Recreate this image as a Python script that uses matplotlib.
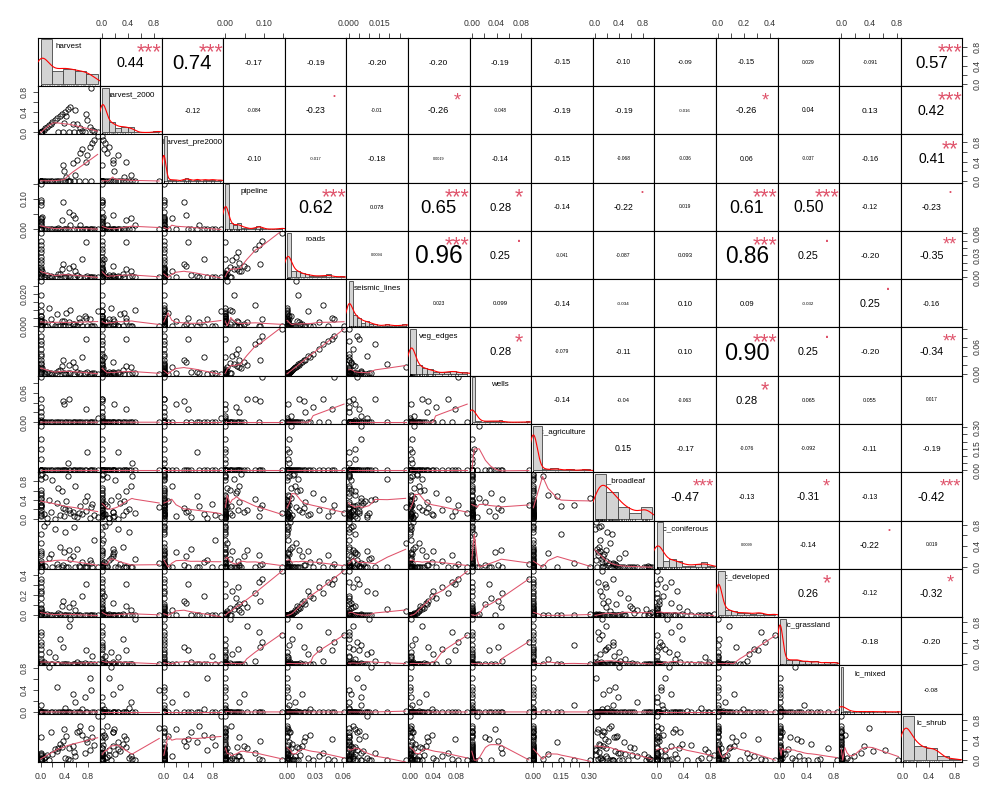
import numpy as np
import matplotlib
matplotlib.use('Agg')
import matplotlib.pyplot as plt
from matplotlib.font_manager import FontProperties
from matplotlib.textpath import TextPath, text_to_path
from matplotlib.transforms import offset_copy

plt.rcParams['font.family'] = 'Liberation Sans'

names = ['harvest', 'harvest_2000', 'harvest_pre2000', 'pipeline', 'roads',
         'seismic_lines', 'veg_edges', 'wells', 'lc_agriculture', 'lc_broadleaf',
         'lc_coniferous', 'lc_developed', 'lc_grassland', 'lc_mixed', 'lc_shrub']

# site values (50 sites), estimated from the scatter panels
harvest = [0, 0, 0, 0, 0, 0, 0, 0, 0, 0, 0, 0, 0, 0, 0, 0,
           0.02, 0.05, 0.08, 0.11, 0.14, 0.17, 0.20, 0.24, 0.28, 0.32, 0.36, 0.41, 0.46, 0.50,
           0.38, 0.40, 0.42, 0.54, 0.62, 0.66, 0.70, 0.76, 0.78, 0.83, 0.87, 0.90, 0.85, 0.96,
           0.58, 0.47, 0.64, 0.74, 0.56, 0.30]
harvest_2000 = [0, 0, 0, 0, 0, 0, 0, 0, 0, 0, 0, 0, 0, 0, 0, 0,
                0.02, 0.05, 0.08, 0.11, 0.14, 0.17, 0.20, 0.24, 0.28, 0.32, 0.36, 0.41, 0.46, 0.50,
                0.00, 0.18, 0.33, 0.17, 0.16, 0.08, 0.03, 0.36, 0.24, 0.10, 0.05, 0.02, 0.88, 0.00,
                0.45, 0.00, 0.00, 0.00, 0.00, 0.00]
harvest_pre2000 = [0, 0, 0, 0, 0, 0, 0, 0, 0, 0, 0, 0, 0, 0, 0, 0,
                   0, 0, 0, 0, 0, 0, 0, 0, 0, 0, 0, 0, 0, 0,
                   0.33, 0.20, 0.07, 0.37, 0.44, 0.57, 0.66, 0.40, 0.54, 0.71, 0.79, 0.84, 0.00, 0.93,
                   0.13, 0.00, 0.00, 0.00, 0.00, 0.00]
pipeline = [0.148, 0.095, 0.088, 0.078, 0.032, 0.028, 0.018, 0.035, 0.012, 0.004, 0, 0, 0, 0, 0, 0.022,
            0.04, 0, 0, 0, 0, 0, 0, 0, 0, 0, 0.03, 0, 0, 0.012,
            0.09, 0, 0, 0.048, 0, 0.014, 0, 0, 0, 0, 0, 0, 0, 0, 0.036, 0.055, 0, 0, 0, 0.005]
roads = [0.061, 0.050, 0.044, 0.039, 0.034, 0.028, 0.023, 0.019, 0.014, 0.010, 0.004, 0.002, 0.006, 0.001, 0, 0.012,
         0.008, 0.001, 0, 0.003, 0, 0.002, 0, 0.001, 0, 0.005, 0.011, 0, 0.002, 0,
         0.018, 0.001, 0, 0.016, 0.003, 0, 0.025, 0.048, 0.002, 0, 0, 0.001, 0, 0, 0.009, 0.013, 0, 0.001, 0, 0.004]
seismic_lines = [0, 0.004, 0, 0.013, 0.002, 0, 0.009, 0, 0.001, 0.028, 0.006, 0.006, 0, 0.003, 0.003, 0.019,
                 0, 0.002, 0, 0, 0.011, 0.004, 0.001, 0, 0.007, 0, 0.003, 0, 0, 0.010,
                 0, 0.003, 0.008, 0.001, 0, 0.002, 0, 0.005, 0, 0.004, 0, 0, 0, 0.009, 0, 0.002, 0.005, 0.006, 0.001, 0]
veg_edges = [0.099, 0.083, 0.072, 0.066, 0.056, 0.044, 0.040, 0.030, 0.024, 0.015, 0.006, 0.004, 0.011, 0.002, 0, 0.021,
             0.012, 0.002, 0, 0.005, 0.001, 0.003, 0, 0.002, 0, 0.008, 0.017, 0, 0.003, 0.001,
             0.031, 0.002, 0, 0.027, 0.005, 0.001, 0.038, 0.078, 0.004, 0, 0.001, 0.002, 0, 0, 0.015, 0.020, 0, 0.002, 0, 0.007]
wells = [0, 0.092, 0, 0.048, 0, 0.031, 0, 0.022, 0, 0, 0.012, 0, 0, 0, 0.004, 0,
         0, 0, 0, 0, 0, 0, 0, 0, 0, 0, 0, 0, 0, 0,
         0.043, 0.038, 0, 0, 0, 0, 0, 0.028, 0, 0, 0, 0, 0, 0.009, 0, 0.047, 0, 0, 0, 0]
lc_agriculture = [0, 0, 0, 0, 0, 0, 0, 0, 0, 0, 0.31, 0.22, 0, 0.08, 0.15, 0,
                  0, 0, 0, 0, 0, 0, 0, 0, 0, 0, 0, 0, 0.05, 0,
                  0, 0, 0, 0, 0, 0, 0, 0, 0.13, 0, 0, 0, 0, 0, 0, 0, 0, 0, 0, 0]
lc_broadleaf = [0.12, 0.30, 0.05, 0.42, 0.18, 0.55, 0.08, 0.35, 0.62, 0.25, 0.45, 0.30, 0.92, 0.50, 0.28, 0.85,
                0.95, 0.10, 0.88, 0.02, 0.40, 0.15, 0.82, 0.00, 0.33, 0.07, 0.58, 0.20, 0.90, 0.12,
                0.22, 0.05, 0.37, 0.14, 0.03, 0.27, 0.11, 0.16, 0.48, 0.01, 0.32, 0.09, 0.24, 0.04, 0.70,
                0.19, 0.13, 0.38, 0.06, 0.65]
lc_coniferous = [0, 0.05, 0.22, 0, 0.12, 0, 0.31, 0.03, 0, 0.45, 0, 0.08, 0, 0.27, 0.62, 0,
                 0, 0.78, 0.02, 0.85, 0.18, 0.25, 0, 0.72, 0.06, 0.38, 0, 0.66, 0, 0.15,
                 0.04, 0.28, 0, 0.21, 0.35, 0, 0.09, 0, 0.01, 0.13, 0, 0.52, 0.07, 0, 0, 0.33, 0.02, 0, 0.76, 0]
lc_developed = [0.44, 0.36, 0.33, 0.22, 0.28, 0.17, 0.24, 0.11, 0.07, 0.04, 0.01, 0, 0.02, 0, 0, 0.06,
                0.03, 0, 0, 0.01, 0, 0, 0, 0, 0, 0.01, 0.09, 0, 0, 0,
                0.14, 0, 0, 0.12, 0, 0, 0.19, 0.31, 0, 0, 0, 0, 0, 0, 0.05, 0.08, 0, 0, 0, 0.02]
lc_grassland = [0.55, 0.42, 0.60, 0.05, 0.28, 0, 0.18, 0, 0.02, 0, 0, 0.36, 0, 0.08, 0, 0,
                0, 0.03, 0, 0, 0.22, 0, 0, 0.12, 0, 0.46, 0, 0, 0, 0.85,
                0.31, 0, 0, 0, 0.04, 0, 0, 0.25, 0, 0, 0.15, 0, 0, 0, 0, 0.72, 0, 0.01, 0, 0]
lc_mixed = [0, 0, 0, 0, 0, 0, 0, 0, 0, 0.02, 0, 0.12, 0, 0, 0, 0,
            0, 0, 0, 0, 0.82, 0, 0, 0, 0.45, 0, 0, 0.08, 0, 0,
            0, 0, 0, 0.33, 0, 0, 0.05, 0, 0, 0.62, 0, 0, 0.40, 0, 0.18, 0, 0, 0.28, 0, 0]
lc_shrub = [0, 0, 0.02, 0.15, 0.08, 0, 0.05, 0.45, 0.10, 0, 0, 0, 0.03, 0.12, 0, 0,
            0, 0.05, 0.06, 0.10, 0, 0.55, 0.12, 0.22, 0.18, 0.32, 0.26, 0.04, 0.02, 0,
            0.38, 0.62, 0.48, 0.28, 0.55, 0.68, 0.50, 0.42, 0.35, 0.20, 0.45, 0.30, 0.64, 0.88,
            0.08, 0.25, 0.58, 0.14, 0.17, 0.25]

vals = [np.array(v, dtype=float) for v in
        [harvest, harvest_2000, harvest_pre2000, pipeline, roads, seismic_lines, veg_edges,
         wells, lc_agriculture, lc_broadleaf, lc_coniferous, lc_developed, lc_grassland,
         lc_mixed, lc_shrub]]

bin_width = [0.2, 0.1, 0.05, 0.01, 0.005, 0.002, 0.01, 0.005, 0.05, 0.2, 0.1, 0.05, 0.1, 0.02, 0.2]
tick_step = [0.2, 0.2, 0.2, 0.05, 0.01, 0.005, 0.02, 0.02, 0.05, 0.2, 0.2, 0.1, 0.2, 0.2, 0.2]
h_labels = [['0.0', '0.4', '0.8']] * 3 + [['0.00', '0.10'], ['0.00', '0.03', '0.06'],
            ['0.000', '0.015'], ['0.00', '0.04', '0.08'], ['0.00', '0.04', '0.08'],
            ['0.00', '0.15', '0.30'], ['0.0', '0.4', '0.8'], ['0.0', '0.4', '0.8'],
            ['0.0', '0.2', '0.4'], ['0.0', '0.4', '0.8'], ['0.0', '0.4', '0.8'], ['0.0', '0.4', '0.8']]
v_labels = [['0.0', '0.4', '0.8']] * 3 + [['0.00', '0.10'], ['0.00', '0.03', '0.06'],
            ['0.000', '0.020'], ['0.00', '0.06'], ['0.00', '0.06'],
            ['0.00', '0.15', '0.30'], ['0.0', '0.4', '0.8'], ['0.0', '0.4', '0.8'],
            ['0.0', '0.2', '0.4'], ['0.0', '0.4', '0.8'], ['0.0', '0.4', '0.8'], ['0.0', '0.4', '0.8']]

# upper triangle, as printed (row i, columns i+1 .. 14)
cor_txt = [
    ['0.44', '0.74', '-0.17', '-0.19', '-0.20', '-0.20', '-0.19', '-0.15', '-0.10', '-0.09', '-0.15', '0.029', '-0.091', '0.57'],
    ['-0.12', '-0.084', '-0.23', '-0.01', '-0.26', '-0.048', '-0.19', '-0.19', '-0.016', '-0.26', '0.04', '0.13', '0.42'],
    ['-0.10', '-0.017', '-0.18', '0.0019', '-0.14', '-0.15', '-0.068', '-0.036', '0.06', '-0.037', '-0.16', '0.41'],
    ['0.62', '0.078', '0.65', '0.28', '-0.14', '-0.22', '0.019', '0.61', '0.50', '-0.12', '-0.23'],
    ['0.0094', '0.96', '0.25', '-0.041', '-0.087', '0.093', '0.86', '0.25', '-0.20', '-0.35'],
    ['0.023', '0.099', '-0.14', '-0.034', '0.10', '0.09', '-0.032', '0.25', '-0.16'],
    ['0.28', '-0.079', '-0.11', '0.10', '0.90', '0.25', '-0.20', '-0.34'],
    ['-0.14', '-0.04', '-0.063', '0.28', '0.065', '0.055', '0.017'],
    ['0.15', '-0.17', '-0.076', '-0.092', '-0.11', '-0.19'],
    ['-0.47', '-0.13', '-0.31', '-0.13', '-0.42'],
    ['0.0099', '-0.14', '-0.22', '0.019'],
    ['0.26', '-0.12', '-0.32'],
    ['-0.18', '-0.20'],
    ['-0.08'],
]
cor_sig = [
    ['***', '***', '', '', '', '', '', '', '', '', '', '', '', '***'],
    ['', '', '.', '', '*', '', '', '', '', '*', '', '', '***'],
    ['', '', '', '', '', '', '', '', '', '', '', '**'],
    ['***', '', '***', '*', '', '.', '', '***', '***', '', '.'],
    ['', '***', '.', '', '', '', '***', '.', '', '**'],
    ['', '', '', '', '', '', '', '.', ''],
    ['*', '', '', '', '***', '.', '', '**'],
    ['', '', '', '*', '', '', ''],
    ['', '', '', '', '', ''],
    ['***', '', '*', '', '***'],
    ['', '', '.', ''],
    ['*', '', '*'],
    ['', ''],
    [''],
]

SIG_RED = '#DF536B'
FONT = 'Liberation Sans'


def lowess(x, y, f=2 / 3, iters=3):
    order = np.argsort(x, kind='stable')
    xs, ys = x[order], y[order]
    n = len(xs)
    ns = max(2, min(n, int(f * n + 1e-7)))
    span = xs[-1] - xs[0]
    rw = np.ones(n)
    fit = np.zeros(n)
    for it in range(iters + 1):
        for k in range(n):
            d = np.abs(xs - xs[k])
            h = np.sort(d)[ns - 1]
            if h > 0:
                u = d / h
                w = np.where(u <= 0.001, 1.0, np.where(u <= 0.999, (1 - u ** 3) ** 3, 0.0))
            else:
                w = (d == 0).astype(float)
            w = w * rw
            if w.sum() <= 0:
                fit[k] = ys[k]
                continue
            w = w / w.sum()
            a = (w * xs).sum()
            c = (w * (xs - a) ** 2).sum()
            if np.sqrt(c) > 0.001 * span:
                fit[k] = (w * ys).sum() + (w * (xs - a) * ys).sum() / c * (xs[k] - a)
            else:
                fit[k] = (w * ys).sum()
        if it == iters:
            break
        res = np.abs(ys - fit)
        cmad = 6 * np.median(res)
        if cmad < 1e-7 * np.mean(np.abs(ys)) or cmad == 0:
            break
        u = res / cmad
        rw = np.where(u <= 0.001, 1.0, np.where(u <= 0.999, (1 - u ** 2) ** 2, 0.0))
    return xs, fit


def r_density(x):
    n = len(x)
    sd = x.std(ddof=1)
    q1, q3 = np.percentile(x, [25, 75])
    lo = min(sd, (q3 - q1) / 1.34)
    if lo == 0:
        lo = sd or abs(x[0]) or 1.0
    bw = 0.9 * lo * n ** -0.2
    grid = np.linspace(x.min() - 3 * bw, x.max() + 3 * bw, 512)
    dens = np.exp(-0.5 * ((grid[:, None] - x[None, :]) / bw) ** 2).sum(1) / (n * bw * np.sqrt(2 * np.pi))
    return grid, dens


def padded(v):
    lo, hi = v.min(), v.max()
    d = (hi - lo) * 0.04
    return lo - d, hi + d


def ink_text(ax, x, y, s, size, color):
    prop = FontProperties(family=FONT, size=size)
    ext = TextPath((0, 0), s, prop=prop).get_extents()
    tr = offset_copy(ax.transAxes, fig=ax.figure, y=-(ext.y0 + ext.y1) / 2, units='points')
    t = ax.text(x, y, s, transform=tr, fontproperties=prop, ha='center', va='baseline', color=color)
    t.set_clip_box(ax.bbox)
    t.set_clip_on(True)


def axis_ticks(k, lim, labs):
    step = tick_step[k]
    t = np.arange(0, lim[1] + step * 0.5, step)
    t = t[(t >= lim[0] - 1e-12) & (t <= lim[1] + 1e-12)]
    lab = [next((s for s in labs if abs(float(s) - v) < 1e-9), '') for v in t]
    return t, lab


fig = plt.figure(figsize=(10, 8), dpi=100)
left, right, top, bottom = 0.0383, 0.9623, 0.9529, 0.0475
pw = (right - left) / 15
ph = (top - bottom) / 15
panel_w_pt = pw * 10 * 72
prop10 = FontProperties(family=FONT, size=10)

for i in range(15):
    for j in range(15):
        pos = [left + j * pw, top - (i + 1) * ph, pw, ph]
        ax = fig.add_axes(pos)
        x, y = vals[j], vals[i]
        ax.set_xlim(padded(x))
        ax.set_ylim(padded(y))
        ax.set_xticks([])
        ax.set_yticks([])
        for sp in ax.spines.values():
            sp.set_linewidth(0.8)

        if i > j:
            ax.plot(x, y, 'o', mfc='none', mec='black', ms=3.8, mew=0.6)
            lx, ly = lowess(x, y)
            ax.plot(lx, ly, color=SIG_RED, lw=0.75)
        elif i < j:
            txt = cor_txt[i][j - i - 1]
            sig = cor_sig[i][j - i - 1]
            w10 = text_to_path.get_text_width_height_descent(txt, prop10, ismath=False)[0]
            base = 10 * 0.8 * panel_w_pt / w10
            ink_text(ax, 0.5, 0.5, txt, base * (abs(float(txt)) + 0.3) / 1.3, 'black')
            if sig:
                ink_text(ax, 0.8, 0.8, sig, base * 0.85, SIG_RED)
        else:
            ax.text(0.5, 0.82, names[i], transform=ax.transAxes, ha='center', va='center',
                    fontsize=5.8, color='black')
            hax = fig.add_axes(pos, frameon=False)
            hax.set_axis_off()
            bw = bin_width[i]
            nb = max(1, int(np.ceil(x.max() / bw - 1e-9)))
            edges = bw * np.arange(nb + 1)
            idx = np.clip(np.searchsorted(edges, x, side='left') - 1, 0, nb - 1)
            counts = np.bincount(idx, minlength=nb)
            dens = counts / (len(x) * bw)
            hax.bar(edges[:-1], dens, width=bw, align='edge', color='#D3D3D3',
                    edgecolor='#444444', linewidth=0.6)
            gx, gy = r_density(x)
            hax.plot(gx, gy, color='red', lw=0.8)
            hax.vlines(x, 0, 0.03, transform=hax.get_xaxis_transform(), color='black', lw=0.4)
            span = edges[-1] - edges[0]
            hax.set_xlim(edges[0] - 0.04 * span, edges[-1] + 0.04 * span)
            hax.set_ylim(-0.04 * dens.max(), 1.04 * dens.max())

        tp = dict(direction='out', length=3.6, width=0.6, labelsize=6.2, pad=3.5,
                  color='#333333', labelcolor='#333333')
        if i == 0 and j % 2 == 1:
            t, lab = axis_ticks(j, ax.get_xlim(), h_labels[j])
            ax.set_xticks(t)
            ax.set_xticklabels(lab)
            ax.tick_params(axis='x', top=True, bottom=False, labeltop=True, labelbottom=False, **tp)
        if i == 14 and j % 2 == 0:
            t, lab = axis_ticks(j, ax.get_xlim(), h_labels[j])
            ax.set_xticks(t)
            ax.set_xticklabels(lab)
            ax.tick_params(axis='x', **tp)
        if j == 0 and i % 2 == 1:
            t, lab = axis_ticks(i, ax.get_ylim(), v_labels[i])
            ax.set_yticks(t)
            ax.set_yticklabels(lab, rotation=90, va='center')
            ax.tick_params(axis='y', **tp)
        if j == 14 and i % 2 == 0:
            t, lab = axis_ticks(i, ax.get_ylim(), v_labels[i])
            ax.set_yticks(t)
            ax.set_yticklabels(lab, rotation=90, va='center')
            ax.tick_params(axis='y', left=False, right=True, labelleft=False, labelright=True, **tp)

fig.savefig('out.png', dpi=100)
